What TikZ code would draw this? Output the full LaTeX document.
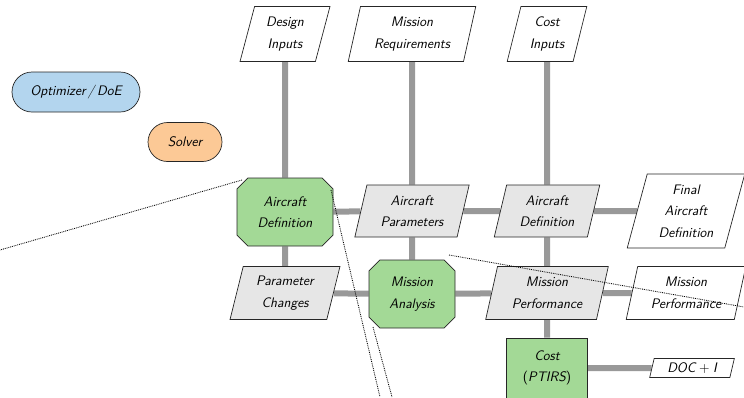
\documentclass[tikz,border=0pt]{standalone}
\usetikzlibrary{shapes.geometric,shapes.misc}
\pgfdeclarelayer{background}
\pgfsetlayers{background,main}

\definecolor{funcgreen}{RGB}{163,217,150}
\definecolor{optblue}{RGB}{179,213,238}
\definecolor{solvorange}{RGB}{252,201,150}
\definecolor{datagray}{RGB}{230,230,230}
\definecolor{pipegray}{RGB}{153,153,153}

\tikzset{
  every node/.style={font=\sffamily\itshape\fontsize{13.8}{21.5}\selectfont,
    align=center, inner sep=0pt},
  datashape/.style={trapezium, trapezium left angle=75, trapezium right angle=105,
    trapezium stretches=true, draw=black!85, line width=0.7pt},
  datain/.style={datashape, fill=white},
  dataflow/.style={datashape, fill=datagray},
  funcbox/.style={chamfered rectangle, chamfered rectangle xsep=8pt,
    draw=black!85, line width=0.7pt, fill=funcgreen},
  costbox/.style={rectangle, draw=black!85, line width=0.7pt, fill=funcgreen},
  drivebox/.style={rounded rectangle, draw=black!85, line width=0.7pt},
  pipe/.style={draw=pipegray, line width=6pt},
  guide/.style={densely dotted, line width=0.85pt, black}
}

\begin{document}
\begin{tikzpicture}[x=1pt,y=-1pt]
  \clip (0,0) rectangle (744,397);
  \useasboundingbox (0,0) rectangle (744,397);

  % drivers
  \node[drivebox, fill=optblue, minimum width=128, minimum height=40] (opt) at (76,92) {Optimizer\,/\,DoE};
  \node[drivebox, fill=solvorange, minimum width=74, minimum height=39] (solver) at (185,142) {Solver};

  % inputs on top
  \node[datain, minimum width=90, minimum height=55] (din) at (285,34) {Design\\Inputs};
  \node[datain, minimum width=128, minimum height=55] (mreq) at (412,34) {Mission\\Requirements};
  \node[datain, minimum width=80, minimum height=55] (cin) at (547,34) {Cost\\Inputs};

  % second row
  \node[funcbox, minimum width=96, minimum height=68] (acdef) at (285,212) {Aircraft\\Definition};
  \node[dataflow, minimum width=115, minimum height=52] (acpar) at (412,211) {Aircraft\\Parameters};
  \node[dataflow, minimum width=106, minimum height=52] (acdefd) at (547,211) {Aircraft\\Definition};
  \node[datain, minimum width=118, minimum height=74] (final) at (686,211) {Final\\Aircraft\\Definition};

  % third row
  \node[dataflow, minimum width=110, minimum height=53] (pchg) at (285,293) {Parameter\\Changes};
  \node[funcbox, minimum width=86, minimum height=68] (mana) at (412,294) {Mission\\Analysis};
  \node[dataflow, minimum width=123, minimum height=53] (mperf) at (547,293) {Mission\\Performance};
  \node[datain, minimum width=120, minimum height=53] (mperfo) at (686,293) {Mission\\Performance};

  % fourth row
  \node[costbox, minimum width=81, minimum height=60] (cost) at (547,368) {Cost\\{\upshape(}PTIRS{\upshape)}};
  \node[datain, minimum width=85, minimum height=19] (doc) at (692,368) {DOC\hspace{3.5pt}{\upshape+}\hspace{3.5pt}I};

  % data pipes behind the blocks
  \begin{pgfonlayer}{background}
    \draw[pipe] (din) -- (acdef) -- (pchg);
    \draw[pipe] (mreq) -- (acpar) -- (mana);
    \draw[pipe] (cin) -- (acdefd) -- (mperf) -- (cost);
    \draw[pipe] (acdef) -- (acpar) -- (acdefd) -- (final);
    \draw[pipe] (pchg) -- (mana) -- (mperf) -- (mperfo);
    \draw[pipe] (cost) -- (doc);
  \end{pgfonlayer}

  % dotted guide lines
  \coordinate (g1a) at (242,180);
  \coordinate (g1b) at (0,250);
  \coordinate (g2a) at (331,190);
  \coordinate (g2b) at (380,397);
  \coordinate (g3a) at (373,327);
  \coordinate (g3b) at (392,397);
  \coordinate (g4a) at (449,255);
  \coordinate (g4b) at (744,307);
  \draw[guide] (g1a) -- (g1b);
  \draw[guide] (g2a) -- (g2b);
  \draw[guide] (g3a) -- (g3b);
  \draw[guide] (g4a) -- (g4b);
\end{tikzpicture}
\end{document}
